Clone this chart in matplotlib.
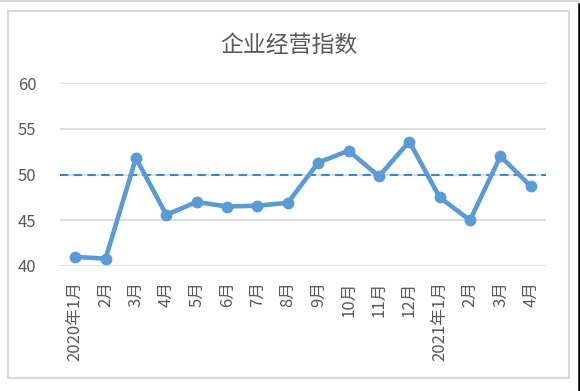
#!/usr/bin/env python3
"""Line chart of the monthly business index (企业经营指数)."""

import matplotlib

matplotlib.use("Agg")
import matplotlib.pyplot as plt
from matplotlib.lines import Line2D
from matplotlib.patches import Rectangle

plt.rcParams["font.family"] = ["Noto Sans CJK SC", "DejaVu Sans"]

TITLE = "企业经营指数"
MONTHS = [
    "2020年1月", "2月", "3月", "4月", "5月", "6月", "7月", "8月",
    "9月", "10月", "11月", "12月", "2021年1月", "2月", "3月", "4月",
]
INDEX = [41.0, 40.8, 51.8, 45.6, 47.0, 46.5, 46.6, 46.9,
         51.3, 52.6, 49.8, 53.6, 47.5, 45.0, 52.0, 48.7]
THRESHOLD = 50
Y_TICKS = [40, 45, 50, 55, 60]

TEXT = "#595959"
GRID = "#d9d9d9"
LINE = "#5b9bd5"
DASH = "#2e8bdb"


def main() -> None:
    fig = plt.figure(figsize=(5.8, 3.91), dpi=100)
    W, H = 580, 391

    # screenshot frame: chart border, top rule and right edge bar
    fig.add_artist(Rectangle((8 / W, 1 - 378 / H), 561 / W, 367 / H,
                             transform=fig.transFigure, fill=False,
                             edgecolor=GRID, linewidth=1.5))
    fig.add_artist(Line2D([0, 1], [1 - 0.8 / H, 1 - 0.8 / H],
                          transform=fig.transFigure, color=GRID, linewidth=1.5))
    fig.add_artist(Line2D([578.5 / W, 578.5 / W], [0, 1 - 4 / H],
                          transform=fig.transFigure, color="black", linewidth=1.8))

    ax = fig.add_axes([60 / W, 1 - 266 / H, 486 / W, 183 / H])
    x = list(range(len(MONTHS)))

    ax.axhline(THRESHOLD, color=DASH, linewidth=1.5, linestyle=(0, (4, 2.6)), zorder=2)
    ax.plot(x, INDEX, color=LINE, linewidth=3.3, marker="o", markersize=7.5,
            solid_joinstyle="round", zorder=3)

    ax.set_xlim(-0.5, len(MONTHS) - 0.5)
    ax.set_ylim(Y_TICKS[0], Y_TICKS[-1])
    ax.set_yticks(Y_TICKS)
    ax.set_xticks(x)
    ax.set_xticklabels(MONTHS, rotation=90)
    ax.grid(True, axis="y", color=GRID, linewidth=1.2)
    ax.set_axisbelow(True)
    for spine in ax.spines.values():
        spine.set_visible(False)
    ax.tick_params(axis="both", length=0, labelsize=12, labelcolor=TEXT)
    ax.tick_params(axis="x", pad=11)
    ax.tick_params(axis="y", pad=17)

    fig.text(289 / W, 1 - 45 / H, TITLE, ha="center", va="center",
             fontsize=16.5, color=TEXT)

    fig.savefig("out.png", dpi=100)


if __name__ == "__main__":
    main()
